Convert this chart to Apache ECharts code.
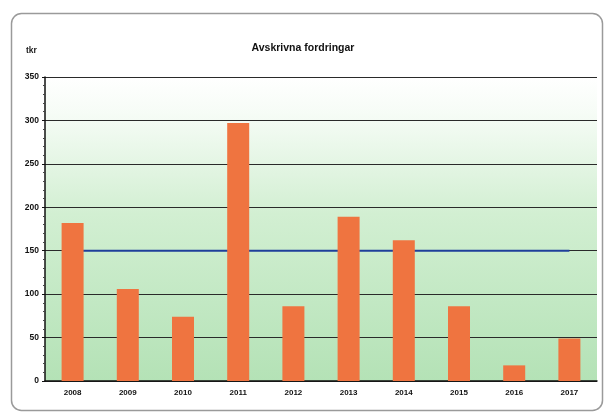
<!DOCTYPE html>
<html>
<head>
<meta charset="utf-8">
<script src="https://cdn.jsdelivr.net/npm/echarts@6/dist/echarts.min.js"></script>
<style>
  html, body { margin: 0; padding: 0; background: #ffffff; }
  #chart { width: 606px; height: 415px; }
</style>
</head>
<body>
<div id="chart"></div>
<script>
// Written-off receivables per year
const years = ['2008', '2009', '2010', '2011', '2012', '2013', '2014', '2015', '2016', '2017'];
const writtenOff = [182, 106, 74, 297, 86, 189, 162, 86, 18, 49];
const referenceLevel = [150, 150, 150, 150, 150, 150, 150, 150, 150, 150];
const yTicks = [0, 50, 100, 150, 200, 250, 300, 350];

const chart = echarts.init(document.getElementById('chart'), null, { renderer: 'canvas' });

const font = 'Liberation Sans, Arial, sans-serif';

chart.setOption({
  animation: false,
  backgroundColor: '#ffffff',
  title: {
    text: 'Avskrivna fordringar',
    left: 'center',
    top: 38,
    textStyle: { fontFamily: font, fontSize: 10.5, fontWeight: 'bold', color: '#111' }
  },
  graphic: [
    {
      type: 'rect',
      shape: { x: 11.5, y: 13.5, width: 591, height: 397, r: 10 },
      style: { fill: 'none', stroke: '#9a9a9a', lineWidth: 1.5 },
      z: -1
    },
    {
      type: 'text',
      left: 26,
      top: 46,
      style: { text: 'tkr', fontFamily: font, fontSize: 8.5, fontWeight: 'bold', fill: '#222' }
    }
  ],
  grid: {
    left: 45,
    right: 9,
    top: 77,
    bottom: 34,
    show: true,
    borderWidth: 0,
    backgroundColor: new echarts.graphic.LinearGradient(0, 0, 0, 1, [
      { offset: 0, color: '#ffffff' },
      { offset: 0.12, color: '#f6fcf6' },
      { offset: 0.45, color: '#d2efd2' },
      { offset: 1, color: '#b4e2b6' }
    ])
  },
  xAxis: {
    type: 'category',
    data: years,
    axisLine: { lineStyle: { color: '#111', width: 1.5 } },
    axisTick: { show: false },
    axisLabel: { fontFamily: font, fontSize: 8, fontWeight: 'bold', color: '#111', margin: 8 }
  },
  yAxis: {
    type: 'value',
    min: 0,
    max: yTicks[yTicks.length - 1],
    interval: 50,
    axisLine: { show: true, lineStyle: { color: '#111', width: 1.5 } },
    axisTick: { show: true, length: 3, lineStyle: { color: '#111' } },
    minorTick: { show: true, splitNumber: 5, length: 2, lineStyle: { color: '#444' } },
    axisLabel: {
      fontFamily: font, fontSize: 8.5, fontWeight: 'bold', color: '#111', margin: 6,
      formatter: v => (yTicks.indexOf(v) >= 0 ? String(v) : '')
    },
    splitLine: { lineStyle: { color: '#2a2a2a', width: 1.2 } }
  },
  series: [
    {
      name: 'Nivå',
      type: 'line',
      data: referenceLevel,
      symbol: 'none',
      lineStyle: { color: '#1f3f9a', width: 2 },
      z: 1
    },
    {
      name: 'Avskrivna fordringar',
      type: 'bar',
      data: writtenOff,
      barWidth: 22,
      itemStyle: { color: '#ef7440' },
      z: 2
    }
  ]
});
</script>
</body>
</html>
